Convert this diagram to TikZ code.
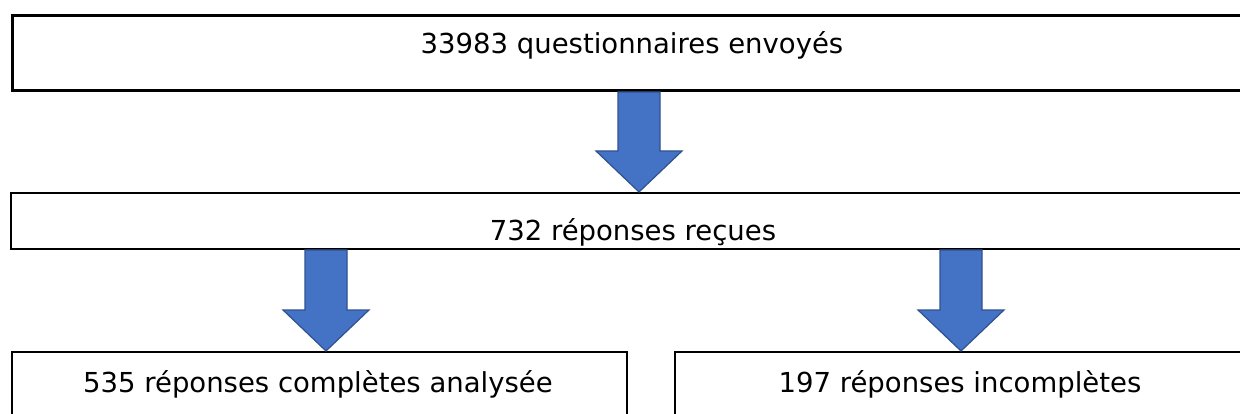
\documentclass[tikz,border=0pt]{standalone}
\usepackage{fontspec}
\setmainfont{DejaVu Sans}
\usetikzlibrary{calc}

\definecolor{arrowfill}{RGB}{68,114,196}
\definecolor{arrowline}{RGB}{47,82,143}

\tikzset{
	box/.style={shape=rectangle, draw=black, line width=2pt, anchor=north west, inner sep=0pt},
	boxtext/.style={anchor=base, inner sep=0pt, font=\fontsize{27.5}{33}\selectfont},
	blockarrow/.style={fill=arrowfill, draw=arrowline, line width=1.2pt, line join=miter}
}

% block arrow from #1 (top of shaft) to #2 (tip)
\newcommand{\blockarrow}[2]{%
	\draw[blockarrow] let \p1=(#1), \p2=(#2) in
		(\x1-21pt,\y1) -- (\x1+21pt,\y1) -- (\x1+21pt,\y2+41pt) -- (\x1+43pt,\y2+41pt)
		-- (\x2,\y2) -- (\x1-43pt,\y2+41pt) -- (\x1-21pt,\y2+41pt) -- cycle;}

\begin{document}
\begin{tikzpicture}[x=1pt, y=-1pt]
			\useasboundingbox (0,0) rectangle (1240,414);
			\clip (0,0) rectangle (1240,414);
			\coordinate (sent) at (11,14);
			\coordinate (received) at (10,192);
			\coordinate (complete) at (11,351);
			\coordinate (incomplete) at (674,351);
			\coordinate (col1) at (639,0);
			\coordinate (col2) at (326,0);
			\coordinate (col3) at (961,0);
			\draw node (sentbox) at (sent) [box, line width=3pt, minimum width=1300pt, minimum height=75pt] {}
				node (receivedbox) at (received) [box, minimum width=1300pt, minimum height=56pt] {}
				node (completebox) at (complete) [box, minimum width=615pt, minimum height=100pt] {}
				node (incompletebox) at (incomplete) [box, minimum width=615pt, minimum height=100pt] {};
			\draw node (senttext) at (632,54) [boxtext] {33983 questionnaires envoyés}
				node (receivedtext) at (633,241) [boxtext] {732 réponses reçues}
				node (completetext) at (318,392) [boxtext] {535 réponses complètes analysée}
				node (incompletetext) at (960,392) [boxtext] {197 réponses incomplètes};
			\blockarrow{sentbox.south -| col1}{receivedbox.north -| col1}
			\blockarrow{receivedbox.south -| col2}{completebox.north -| col2}
			\blockarrow{receivedbox.south -| col3}{incompletebox.north -| col3}
		\end{tikzpicture}
\end{document}
